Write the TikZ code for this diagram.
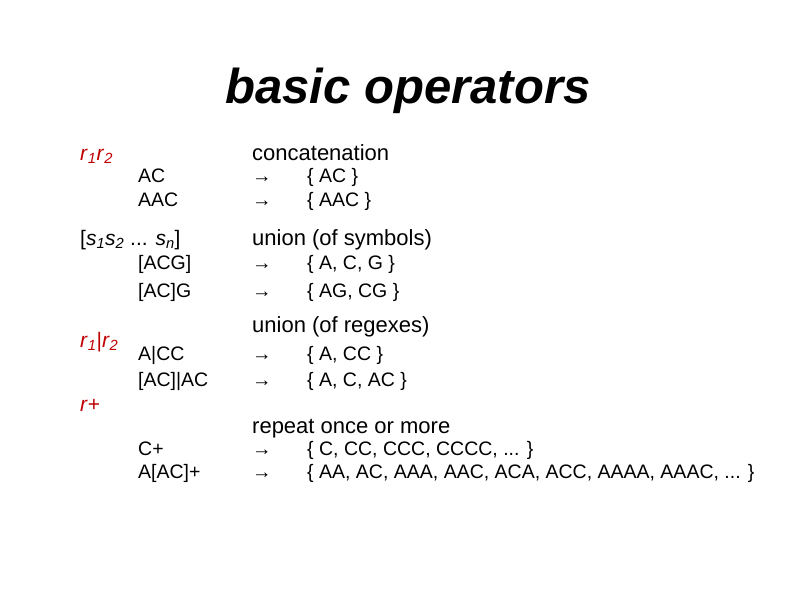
\documentclass[tikz,border=0pt]{standalone}
\usepackage{fontspec}
\setmainfont{Liberation Sans}
\newcommand{\sbs}[1]{\textsubscript{\itshape #1}}
\begin{document}
\begin{tikzpicture}[x=1pt,y=-1pt,
  lab/.style={anchor=base west,inner sep=0pt,text=red!75!black,font=\fontsize{21}{24}\selectfont},
  hd/.style={anchor=base west,inner sep=0pt,font=\fontsize{22}{24}\selectfont},
  ex/.style={anchor=base west,inner sep=0pt,font=\fontsize{19.5}{20}\selectfont}]
\useasboundingbox (0,0) rectangle (794,595);
\node[anchor=base,inner sep=0pt,font=\fontsize{49}{56}\bfseries\itshape\selectfont] (t) at (408,103) {basic operators};
% row 1
\node[lab] (l1) at (80,160) {\textit{r}\sbs{1}\textit{r}\sbs{2}};
\node[hd] (h1) at (252,160) {concatenation};
\node[ex] (e1a) at (138,182) {AC};
\node[ex] (e1b) at (138,206) {AAC};
\node[ex] (a1a) at (252,182) {→};
\node[ex] (a1b) at (252,206) {→};
\node[ex] (s1a) at (307,182) {\{ AC \}};
\node[ex] (s1b) at (307,206) {\{ AAC \}};
% row 2
\node[anchor=base west,inner sep=0pt,font=\fontsize{21}{24}\selectfont] (l2) at (80,245) {[\textit{s}\sbs{1}\textit{s}\sbs{2} ... \textit{s}\sbs{n}]};
\node[hd] (h2) at (252,245) {union (of symbols)};
\node[ex] (e2a) at (138,269) {[ACG]};
\node[ex] (e2b) at (138,297) {[AC]G};
\node[ex] (a2a) at (252,269) {→};
\node[ex] (a2b) at (252,297) {→};
\node[ex] (s2a) at (307,269) {\{ A, C, G \}};
\node[ex] (s2b) at (307,297) {\{ AG, CG \}};
% row 3
\node[lab] (l3) at (80,347) {\textit{r}\sbs{1}|\textit{r}\sbs{2}};
\node[hd] (h3) at (252,332) {union (of regexes)};
\node[ex] (e3a) at (138,360) {A|CC};
\node[ex] (e3b) at (138,386) {[AC]|AC};
\node[ex] (a3a) at (252,360) {→};
\node[ex] (a3b) at (252,386) {→};
\node[ex] (s3a) at (307,360) {\{ A, CC \}};
\node[ex] (s3b) at (307,386) {\{ A, C, AC \}};
% row 4
\node[lab] (l4) at (80,411) {\textit{r}+};
\node[hd] (h4) at (252,433) {repeat once or more};
\node[ex] (e4a) at (138,455) {C+};
\node[ex] (e4b) at (138,478) {A[AC]+};
\node[ex] (a4a) at (252,455) {→};
\node[ex] (a4b) at (252,478) {→};
\node[ex] (s4a) at (307,455) {\{ C, CC, CCC, CCCC, ... \}};
\node[ex] (s4b) at (307,478) {\{ AA, AC, AAA, AAC, ACA, ACC, AAAA, AAAC, ... \}};
\end{tikzpicture}
\end{document}
